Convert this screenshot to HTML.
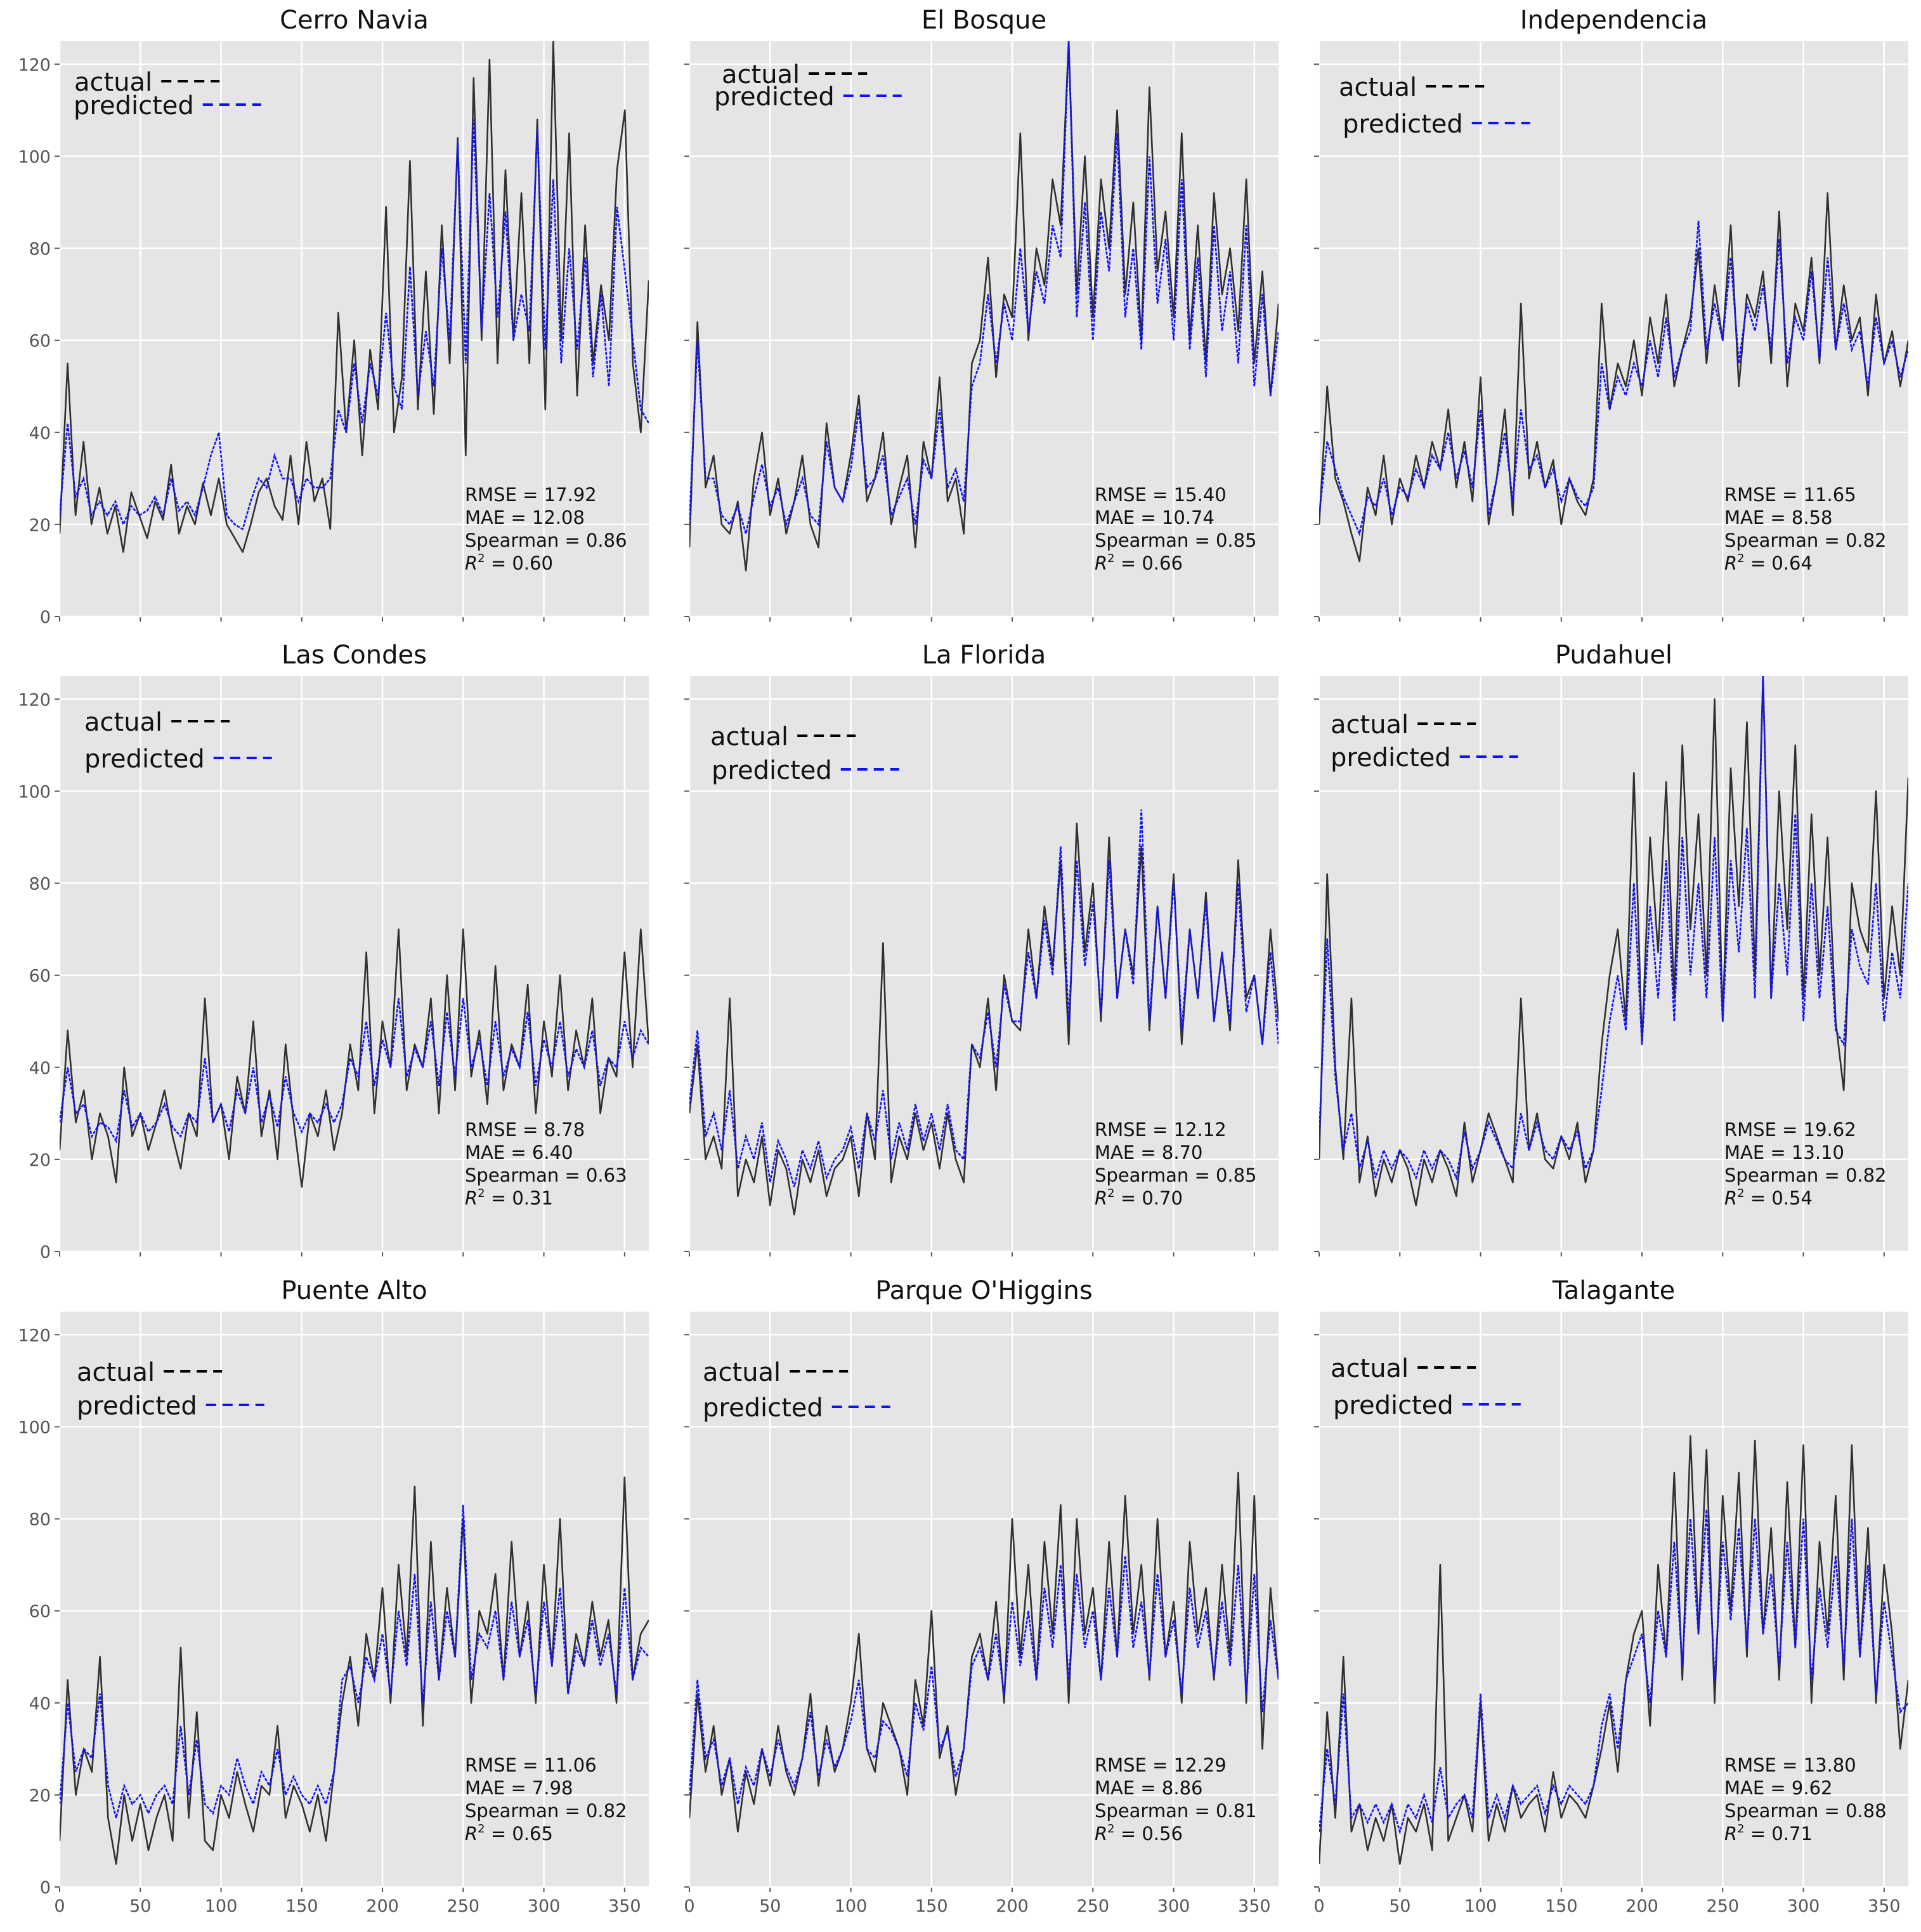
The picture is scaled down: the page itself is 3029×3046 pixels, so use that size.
<!DOCTYPE html>
<html><head><meta charset="utf-8"><style>
html,body{margin:0;padding:0;background:#fff}
svg{display:block}
text{font-family:"DejaVu Sans","Liberation Sans",sans-serif}
</style></head><body>
<svg id="fig" width="3029" height="3046" viewBox="0 0 3029 3046" xmlns="http://www.w3.org/2000/svg"></svg>
<script>
const titles=["Cerro Navia","El Bosque","Independencia","Las Condes","La Florida","Pudahuel","Puente Alto","Parque O'Higgins","Talagante"];
const rmse=["17.92","15.40","11.65","8.78","12.12","19.62","11.06","12.29","13.80"];
const mae=["12.08","10.74","8.58","6.40","8.70","13.10","7.98","8.86","9.62"];
const spear=["0.86","0.85","0.82","0.63","0.85","0.82","0.82","0.81","0.88"];
const r2=["0.60","0.66","0.64","0.31","0.70","0.54","0.65","0.56","0.71"];
const xTicks=[0,50,100,150,200,250,300,350];
const yTicks=[0,20,40,60,80,100,120];
const actual0=[18,55,22,38,20,28,18,24,14,27,22,17,25,21,33,18,24,20,29,22,30,20,17,14,20,27,30,24,21,35,20,38,25,30,19,66,40,60,35,58,45,89,40,52,99,45,75,44,85,55,104,35,117,60,121,55,97,60,92,55,108,45,125,60,105,48,85,55,72,60,97,110,55,40,73];
const predicted0=[22,42,26,30,22,25,22,25,20,24,22,23,26,22,30,23,25,22,28,35,40,22,20,19,25,30,28,35,30,30,25,30,28,28,30,45,40,55,42,55,48,66,50,45,76,48,62,50,80,60,103,55,108,62,92,65,88,60,70,62,106,58,95,55,80,58,78,52,70,50,89,75,60,45,42];
const actual1=[15,64,28,35,20,18,25,10,30,40,22,30,18,25,35,20,15,42,28,25,35,48,25,30,40,20,28,35,15,38,30,52,25,30,18,55,60,78,52,70,65,105,60,80,72,95,85,125,70,100,65,95,80,110,70,90,60,115,75,88,65,105,60,85,55,92,70,80,62,95,55,75,48,68];
const predicted1=[20,60,30,30,22,20,24,18,26,33,24,28,20,25,30,22,20,38,28,25,32,45,28,30,35,22,26,30,20,34,30,45,28,32,25,50,55,70,55,68,60,80,62,75,68,85,78,125,65,90,60,88,75,105,65,80,58,100,68,82,60,95,58,78,52,85,62,75,55,85,50,70,48,62];
const actual2=[20,50,30,25,18,12,28,22,35,20,30,25,35,28,38,32,45,28,38,25,52,20,30,45,22,68,30,38,28,34,20,30,25,22,30,68,45,55,50,60,48,65,55,70,50,58,65,80,55,72,60,85,50,70,65,75,55,88,50,68,62,78,55,92,58,72,60,65,48,70,55,62,50,60];
const predicted2=[22,38,32,26,22,18,26,24,30,22,28,26,32,28,35,32,40,30,36,28,45,22,30,40,25,45,32,35,28,32,25,30,26,24,28,55,45,52,48,55,50,60,52,65,52,58,62,86,58,68,60,78,55,68,62,72,58,82,55,65,60,75,56,78,58,68,58,62,50,65,55,60,52,58];
const actual3=[22,48,28,35,20,30,25,15,40,25,30,22,28,35,25,18,30,25,55,28,32,20,38,30,50,25,35,20,45,28,14,30,25,35,22,30,45,35,65,30,50,40,70,35,45,40,55,30,60,35,70,38,48,32,62,35,45,40,58,30,50,38,60,35,48,40,55,30,42,38,65,40,70,45];
const predicted3=[28,40,30,32,25,28,27,24,35,27,30,26,28,32,27,25,30,28,42,28,32,26,35,30,40,28,34,27,38,30,26,30,28,32,28,32,42,38,50,36,46,40,55,38,44,40,50,36,52,38,55,40,46,36,50,38,44,40,52,36,46,40,50,38,44,40,48,36,42,40,50,42,48,45];
const actual4=[30,45,20,25,18,55,12,20,15,25,10,22,18,8,20,15,22,12,18,20,25,12,30,20,67,15,25,20,30,22,28,18,30,20,15,45,40,55,35,60,50,48,70,55,75,62,85,45,93,65,80,50,90,55,70,60,88,48,75,55,82,45,70,55,78,50,65,48,85,55,60,45,70,50];
const predicted4=[32,48,25,30,22,35,18,25,20,28,15,24,20,14,22,18,24,16,20,22,27,18,30,24,35,20,28,22,32,24,30,22,32,22,20,45,42,52,40,58,50,50,65,55,72,60,88,50,85,62,76,52,85,55,70,58,96,50,75,55,80,48,70,55,76,50,65,50,80,52,60,45,65,45];
const actual5=[20,82,40,20,55,15,25,12,20,15,22,18,10,20,15,22,18,12,28,15,22,30,25,20,15,55,22,30,20,18,25,20,28,15,22,45,60,70,50,104,45,90,65,102,55,110,70,95,60,120,50,105,75,115,60,125,55,100,70,110,55,95,60,90,50,35,80,70,65,100,55,75,60,103];
const predicted5=[25,68,38,22,30,18,24,16,22,18,22,20,16,22,18,22,20,16,26,18,22,28,24,20,18,30,22,28,22,20,25,22,26,18,22,35,50,60,48,80,45,75,55,85,50,90,60,80,55,90,50,85,65,92,55,125,55,80,60,95,50,80,55,75,48,45,70,62,58,80,50,65,55,80];
const actual6=[10,45,20,30,25,50,15,5,20,10,18,8,15,20,10,52,15,38,10,8,20,15,25,18,12,22,20,35,15,22,18,12,20,10,25,40,50,35,55,45,65,40,70,50,87,35,75,45,65,50,80,40,60,55,68,45,75,50,62,40,70,48,80,42,55,48,62,50,58,40,89,45,55,58];
const predicted6=[18,40,25,30,28,42,22,15,22,18,20,16,20,22,18,35,20,32,18,16,22,20,28,22,18,25,22,30,20,24,20,18,22,18,25,45,48,40,50,45,55,42,60,48,68,40,62,45,60,50,83,45,55,52,60,45,62,50,58,42,62,48,65,42,52,48,58,48,55,42,65,45,52,50];
const actual7=[15,42,25,35,20,28,12,25,18,30,22,35,25,20,28,42,22,35,25,30,40,55,30,25,40,35,30,20,45,35,60,28,35,20,30,50,55,45,62,40,80,50,70,45,75,55,83,40,80,55,65,45,75,50,85,55,70,45,80,50,62,40,75,55,65,45,70,50,90,40,85,30,65,45];
const predicted7=[20,45,28,32,22,28,18,26,22,30,24,32,26,22,28,38,24,32,26,30,36,45,30,28,36,34,30,24,40,34,48,30,34,24,30,48,52,45,55,42,62,48,60,45,65,52,70,45,68,52,60,45,65,50,72,52,62,46,68,50,58,42,65,52,60,46,62,48,70,42,68,38,58,45];
const actual8=[5,38,15,50,12,18,8,15,10,18,5,15,12,18,8,70,10,15,20,12,40,10,18,12,22,15,18,20,12,25,15,20,18,15,22,30,40,25,45,55,60,35,70,50,90,45,98,55,95,40,85,60,90,50,97,55,78,45,88,52,96,40,75,55,85,45,96,50,78,40,70,55,30,45];
const predicted8=[12,30,18,42,15,18,14,18,14,18,12,18,15,20,14,26,15,18,20,15,42,15,20,15,22,18,20,22,16,22,18,22,20,18,22,35,42,30,45,50,55,40,60,50,75,48,80,55,82,45,75,58,78,52,80,55,68,48,75,52,80,45,65,52,72,48,80,50,70,42,62,50,38,40];
const actuals=[actual0,actual1,actual2,actual3,actual4,actual5,actual6,actual7,actual8];
const predicteds=[predicted0,predicted1,predicted2,predicted3,predicted4,predicted5,predicted6,predicted7,predicted8];
// legend offsets (layout, not data)
const legendPos=[[23,64,22,101],[51,52,39,87],[31,72,37,130],[39,72,39,130],[33,95,35,148],[18,76,18,128],[27,95,27,148],[21,95,21,151],[18,89,22,147]];

const NS="http://www.w3.org/2000/svg";
const svg=document.getElementById('fig');
const colL=[94,1087,2080], rowT=[65,1066,2068], W=929, H=907;
const XMAX=365, YMAX=125;
function mk(tag,attrs,parent){const e=document.createElementNS(NS,tag);for(const k in attrs)e.setAttribute(k,attrs[k]);(parent||svg).appendChild(e);return e;}

for(let p=0;p<9;p++){
  const r=Math.floor(p/3), c=p%3, L=colL[c], T=rowT[r], B=T+H;
  const xs=v=>L+v/XMAX*W, ys=v=>B-v/YMAX*H;
  const g=mk('g',{});
  
  
  const bg=mk('rect',{x:L,y:T,width:W,height:H,fill:'#E5E5E5'},g);
  
  
  xTicks.forEach(t=>{
    const gl=mk('line',{x1:xs(t),x2:xs(t),y1:T,y2:B,stroke:'#fff','stroke-width':2.5},g);
    
    
    mk('line',{x1:xs(t),x2:xs(t),y1:B,y2:B+8,stroke:'#555','stroke-width':2},g);
    if(r===2){const tl=mk('text',{x:xs(t),y:B+39,'font-size':27,fill:'#555','text-anchor':'middle'},g);tl.textContent=t;
      
      }
  });
  yTicks.forEach(t=>{
    const gl=mk('line',{x1:L,x2:L+W,y1:ys(t),y2:ys(t),stroke:'#fff','stroke-width':2.5},g);
    
    
    mk('line',{x1:L-8,x2:L,y1:ys(t),y2:ys(t),stroke:'#555','stroke-width':2},g);
    if(c===0){const tl=mk('text',{x:L-14,y:ys(t)+10,'font-size':27,fill:'#555','text-anchor':'end'},g);tl.textContent=t;
      
      }
  });
  const clip=mk('clipPath',{id:'c'+p},g);mk('rect',{x:L,y:T,width:W,height:H},clip);
  const a=actuals[p], pr=predicteds[p];
  const pts=arr=>arr.map((v,i)=>xs(i*XMAX/(arr.length-1)).toFixed(1)+','+ys(v).toFixed(1)).join(' ');
  const la=mk('polyline',{points:pts(a),fill:'none',stroke:'#111','stroke-width':2.6,'stroke-opacity':0.85,'stroke-linejoin':'round','clip-path':'url(#c'+p+')'},g);
  
  
  const lp=mk('polyline',{points:pts(pr),fill:'none',stroke:'#1010ff','stroke-width':2.6,'stroke-dasharray':'5,2','clip-path':'url(#c'+p+')'},g);
  
  
  const tt=mk('text',{x:L+W/2,y:T-20,'font-size':40,fill:'#111','text-anchor':'middle'},g);tt.textContent=titles[p];
  
  
  const lg=legendPos[p];
  const leg=mk('g',{},g);
  
  
  const t1=mk('text',{x:L+lg[0],y:T+lg[1]+14,'font-size':40,fill:'#111'},leg);t1.textContent='actual';
  
  
  const w1=t1.getComputedTextLength();
  mk('line',{x1:L+lg[0]+w1+14,x2:L+lg[0]+w1+106,y1:T+lg[1]-1,y2:T+lg[1]-1,stroke:'#000','stroke-width':4,'stroke-dasharray':'16,10'},leg);
  const t2=mk('text',{x:L+lg[2],y:T+lg[3]+14,'font-size':40,fill:'#111'},leg);t2.textContent='predicted';
  
  
  const w2=t2.getComputedTextLength();
  mk('line',{x1:L+lg[2]+w2+14,x2:L+lg[2]+w2+106,y1:T+lg[3]-1,y2:T+lg[3]-1,stroke:'#1010ff','stroke-width':4,'stroke-dasharray':'16,10'},leg);
  const st=mk('text',{x:L+639,y:T+725,'font-size':29,fill:'#111'},g);
  
  
  const lines=['RMSE = '+rmse[p],'MAE = '+mae[p],'Spearman = '+spear[p]];
  lines.forEach((s,i)=>{const ts=mk('tspan',{x:L+639,y:T+725+i*36},st);ts.textContent=s;});
  const r2t=mk('tspan',{x:L+639,y:T+725+108},st);
  const ri=mk('tspan',{'font-style':'italic'},r2t);ri.textContent='R';
  const sup=mk('tspan',{'font-size':18,dy:-12},r2t);sup.textContent='2';
  const rest=mk('tspan',{dy:12},r2t);rest.textContent=' = '+r2[p];
}
</script>
</body></html>
